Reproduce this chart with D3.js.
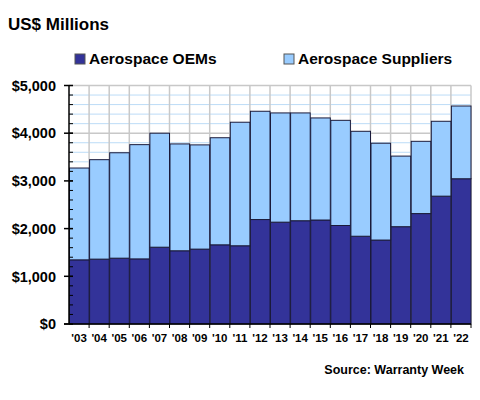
<!DOCTYPE html>
<html><head><meta charset="utf-8">
<script src="https://cdn.jsdelivr.net/npm/d3@7"></script>
<style>
body{margin:0;background:#fff;}
text{font-family:Arial,"Liberation Sans",sans-serif;font-weight:bold;fill:#000;}
</style></head>
<body>
<svg id="c" width="480" height="400"></svg>
<script>
const years = ["'03","'04","'05","'06","'07","'08","'09","'10","'11","'12","'13","'14","'15","'16","'17","'18","'19","'20","'21","'22"];
const oems = [1345,1360,1380,1365,1610,1535,1570,1660,1640,2190,2135,2165,2180,2065,1840,1760,2040,2315,2680,3045];
const suppliers = [1925,2085,2210,2395,2390,2240,2185,2245,2590,2270,2290,2260,2140,2205,2200,2030,1480,1515,1570,1525];
const seriesNames = ["Aerospace OEMs","Aerospace Suppliers"];
const colors = ["#333399","#99CCFF"];
const yTicks = [0,1000,2000,3000,4000,5000];

const svg = d3.select("#c");
const L=69, R=471, T=85.5, B=324;
const x = d3.scaleBand().domain(years).range([L,R]).padding(0);
const y = d3.scaleLinear().domain([0,5000]).range([B,T]);

// gridlines
const minor = d3.range(200,5000,200).filter(v=>v%1000!==0);
svg.append("g").selectAll("line").data(minor).join("line")
  .attr("x1",L).attr("x2",R).attr("y1",d=>y(d)).attr("y2",d=>y(d))
  .attr("stroke","#bcdcf7").attr("stroke-width",1);
svg.append("g").selectAll("line").data([1000,2000,3000,4000,5000]).join("line")
  .attr("x1",L).attr("x2",R).attr("y1",d=>y(d)).attr("y2",d=>y(d))
  .attr("stroke","#c8c8c8").attr("stroke-width",1.5);
svg.append("g").selectAll("line").data(years.slice(1).concat(["end"])).join("line")
  .attr("x1",(d,i)=>d==="end"?R:x(d)).attr("x2",(d,i)=>d==="end"?R:x(d))
  .attr("y1",T).attr("y2",B).attr("stroke","#c8c8c8").attr("stroke-width",1.5);

// stacked bars
const data = years.map((yr,i)=>({year:yr, oem:oems[i], sup:suppliers[i]}));
const stack = d3.stack().keys(["oem","sup"])(data);
stack.forEach((s,si)=>{
  svg.append("g").selectAll("rect").data(s).join("rect")
    .attr("x",d=>x(d.data.year)+0.5)
    .attr("width",x.bandwidth()-0.5)
    .attr("y",d=>y(d[1]))
    .attr("height",d=>y(d[0])-y(d[1]))
    .attr("fill",colors[si])
    .attr("stroke","#1a1a3a").attr("stroke-width",1);
});

// y axis
const yAxis = svg.append("g");
yAxis.append("line").attr("x1",L).attr("x2",L).attr("y1",T).attr("y2",B).attr("stroke","#000").attr("stroke-width",1.5);
yAxis.selectAll(".mi").data(d3.range(0,5001,200)).join("line")
  .attr("x1",L).attr("x2",L+4).attr("y1",d=>y(d)).attr("y2",d=>y(d)).attr("stroke","#000").attr("stroke-width",1);
yAxis.selectAll(".ma").data(yTicks).join("line")
  .attr("x1",L-5).attr("x2",L+4).attr("y1",d=>y(d)).attr("y2",d=>y(d)).attr("stroke","#000").attr("stroke-width",1.5);
yAxis.selectAll("text").data(yTicks).join("text")
  .attr("x",56).attr("y",d=>y(d)).attr("dy","0.36em").attr("text-anchor","end")
  .style("font-size","14.5px").text(d=>"$"+d3.format(",")(d));

// x axis
const xAxis = svg.append("g");
xAxis.append("line").attr("x1",L-5).attr("x2",R).attr("y1",B).attr("y2",B).attr("stroke","#000").attr("stroke-width",1.5);
xAxis.selectAll(".t").data(years.slice(1).concat(["end"])).join("line")
  .attr("x1",d=>d==="end"?R:x(d)).attr("x2",d=>d==="end"?R:x(d))
  .attr("y1",B).attr("y2",B+4).attr("stroke","#000").attr("stroke-width",1);
xAxis.selectAll("text").data(years).join("text")
  .attr("x",d=>x(d)+x.bandwidth()/2).attr("y",342).attr("text-anchor","middle")
  .style("font-size","11.5px").text(d=>d);

// title
svg.append("text").attr("x",8).attr("y",30).style("font-size","17px").text("US$ Millions");

// legend
const legX=[75,284];
seriesNames.forEach((n,i)=>{
  svg.append("rect").attr("x",legX[i]).attr("y",54).attr("width",10).attr("height",10)
    .attr("fill",colors[i]).attr("stroke","#555").attr("stroke-width",1);
  svg.append("text").attr("x",legX[i]+14).attr("y",64).style("font-size","15.5px").text(n);
});

// source
svg.append("text").attr("x",464).attr("y",374).attr("text-anchor","end").style("font-size","12.5px").text("Source: Warranty Week");
</script>
</body></html>
